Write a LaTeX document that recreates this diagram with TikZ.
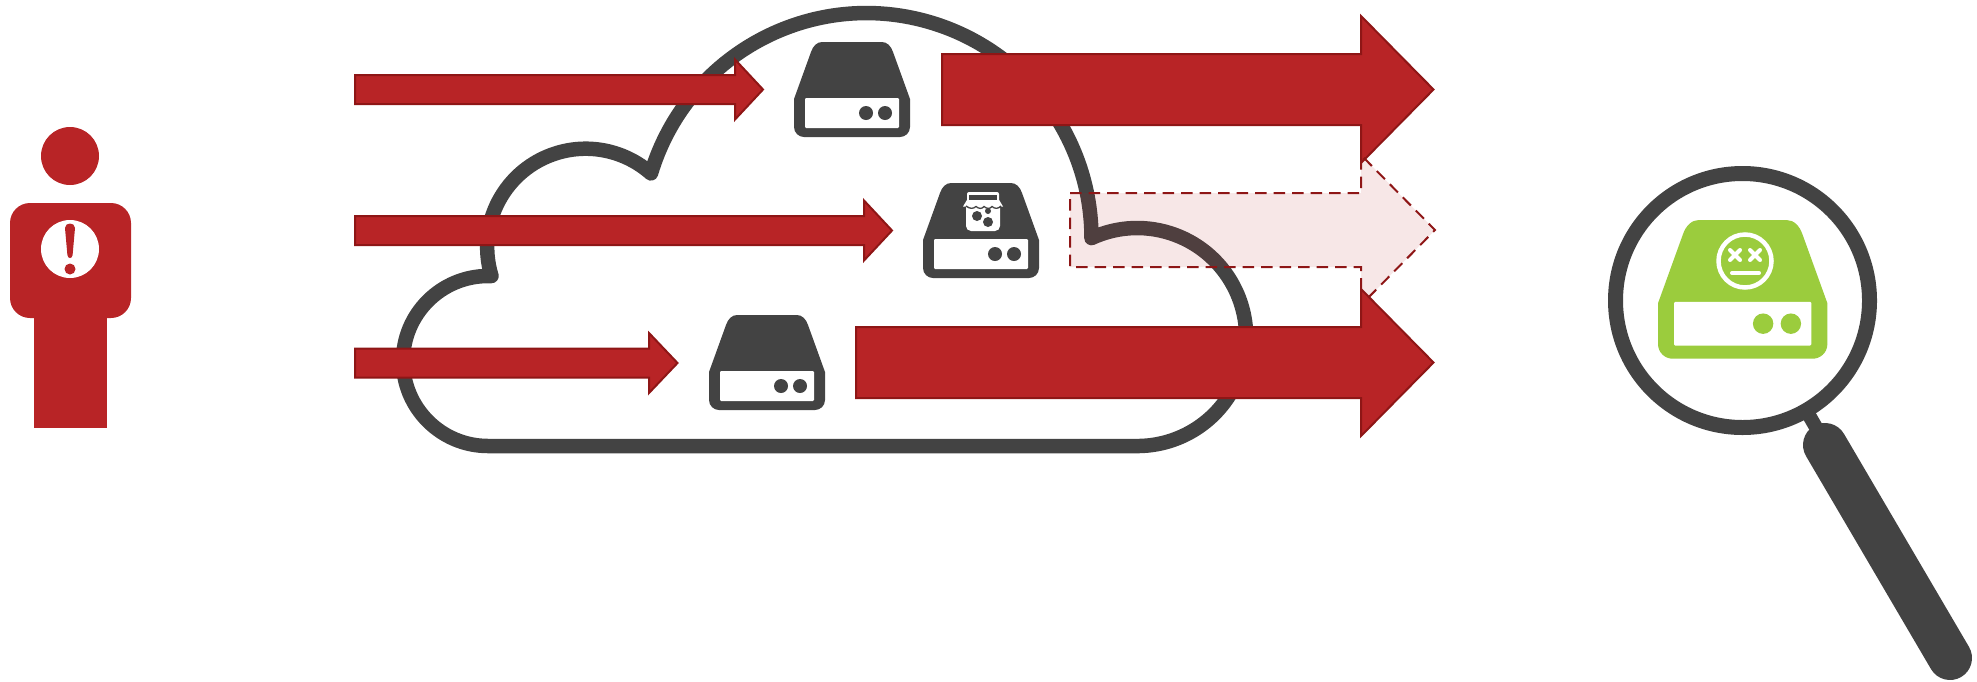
\documentclass[tikz,border=0pt]{standalone}
\definecolor{ink}{HTML}{434343}
\definecolor{brick}{HTML}{B82426}
\definecolor{brickdark}{HTML}{8E1616}
\definecolor{leaf}{HTML}{9BCC3D}
\tikzset{
  cloudline/.style={draw=ink,line width=14.5pt,line cap=round,line join=round},
  arrowsolid/.style={fill=brick,draw=brickdark,line width=2pt,line join=miter},
  arrowghost/.style={fill=brick,fill opacity=0.11,draw=brickdark,draw opacity=1,line width=2pt,dash pattern=on 11.5pt off 7pt},
  facestroke/.style={draw=white,line width=4pt,line cap=round}
}
% x start, y centre, neck x, tip x, shaft half, head half, style
\newcommand{\blockarrow}[7]{%
  \path[#7] (#1,{-(#2)+#5}) -- (#3,{-(#2)+#5}) -- (#3,{-(#2)+#6}) -- (#4,{-(#2)})
    -- (#3,{-(#2)-#6}) -- (#3,{-(#2)-#5}) -- (#1,{-(#2)-#5}) -- cycle;}
% x, y of top-left, scale, colour
\newcommand{\diskicon}[4]{%
  \begin{scope}[shift={(#1,-#2)},scale=#3]
    \fill[#4] (0,-57) -- (17,-10) .. controls (19,-4) and (23,0) .. (28,0) -- (88,0)
      .. controls (93,0) and (97,-4) .. (99,-10) -- (116,-57) -- (116,-85)
      .. controls (116,-91) and (111,-95) .. (106,-95) -- (10,-95)
      .. controls (5,-95) and (0,-91) .. (0,-85) -- cycle;
    \fill[white,rounded corners=1.2pt] (11,-56) rectangle (105,-86);
    \fill[#4] (72,-71) circle[radius=7];
    \fill[#4] (91,-71) circle[radius=7];
  \end{scope}}
\begin{document}
\begin{tikzpicture}[x=1pt,y=1pt]
\useasboundingbox (0,0) rectangle (1977,-681);
% person
\fill[brick] (70,-156) circle[radius=29];
\fill[brick,rounded corners=20pt] (10,-203) rectangle (131,-318);
\fill[brick] (33.5,-300) rectangle (107,-428);
\fill[white] (70,-249) circle[radius=29];
\fill[brick] (65,-228) .. controls (65,-222) and (75,-222) .. (75,-228)
  -- (72.6,-255) .. controls (72.2,-259) and (67.8,-259) .. (67.4,-255) -- cycle;
\fill[brick] (70,-269) circle[radius=5.5];
% cloud
\path[cloudline] (491.5,-276) arc[start angle=197,end angle=48.5,radius=98.5]
  arc[start angle=163.3,end angle=0,radius=225]
  arc[start angle=114.8,end angle=-90,radius=109]
  -- (488,-446) arc[start angle=-90,end angle=-270,radius=85] -- cycle;
% disks
\diskicon{794}{42}{1}{ink}
\diskicon{923}{183}{1}{ink}
\diskicon{709}{315}{1}{ink}
% jar on the middle disk
\fill[white,rounded corners=2pt] (967,-192) rectangle (999,-206);
\fill[white] (967.5,-199) -- (963,-206.5) -- (1003,-206.5) -- (998.5,-199) -- cycle;
\fill[ink] (969,-194.5) rectangle (997,-199.5);
\fill[white,rounded corners=5pt] (966,-203) rectangle (1000,-231);
\draw[ink,line width=1.3pt] (966,-206) .. controls (970,-209) and (973,-209) .. (976,-206.5)
  .. controls (979,-209) and (982,-209) .. (984,-206.5)
  .. controls (987,-209) and (990,-209) .. (992,-206.5)
  .. controls (995,-209) and (998,-209) .. (1001,-206);
\fill[ink] (977,-216) circle[radius=5];
\fill[ink] (988,-222) circle[radius=5];
\fill[ink] (988,-211) circle[radius=3];
% arrows
\blockarrow{355}{89.5}{735}{763}{14.5}{30}{arrowsolid}
\blockarrow{355}{230.5}{864}{892}{14.5}{30}{arrowsolid}
\blockarrow{355}{363}{649}{677.5}{14.5}{30}{arrowsolid}
\blockarrow{942}{89.5}{1361}{1433.5}{35.5}{73.5}{arrowsolid}
\blockarrow{1070}{230}{1361}{1435}{37}{75}{arrowghost}
\blockarrow{856}{362.5}{1361}{1433.5}{35.5}{73.5}{arrowsolid}
% magnifier
\fill[ink,rotate around={30:(1810,-417)}] (1803,-405) rectangle (1817,-435);
\draw[ink,line width=44pt,line cap=round] (1825,-445) -- (1950,-658);
\draw[ink,line width=15pt,fill=white] (1742.5,-300.5) circle[radius=127];
% green disk
\diskicon{1658}{220}{1.46}{leaf}
\draw[white,line width=4.5pt] (1745,-261) circle[radius=26.5];
\draw[facestroke] (1730,-250) -- (1740,-260);
\draw[facestroke] (1740,-250) -- (1730,-260);
\draw[facestroke] (1750,-250) -- (1760,-260);
\draw[facestroke] (1760,-250) -- (1750,-260);
\draw[facestroke] (1732,-273) -- (1759,-273);
\end{tikzpicture}
\end{document}
